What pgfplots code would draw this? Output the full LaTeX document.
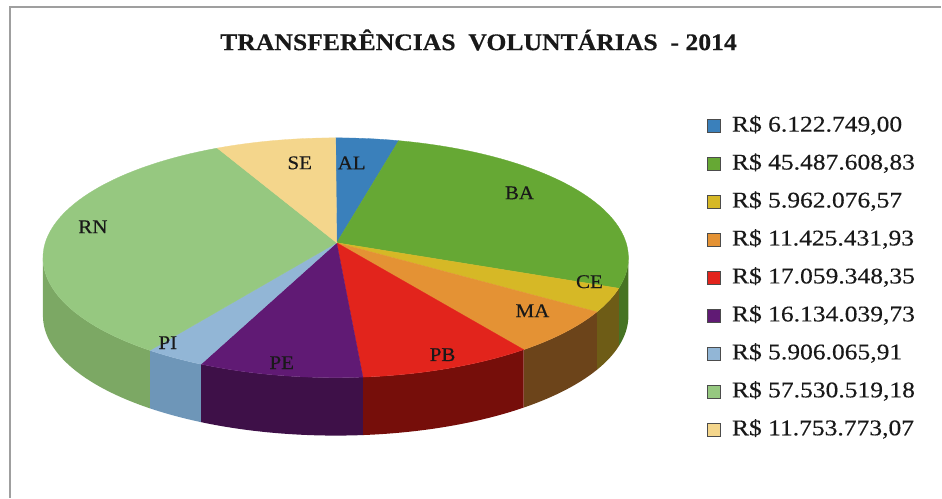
\documentclass[border=0pt]{standalone}
\usepackage{pgfplots}
\pgfplotsset{compat=1.18}
\usepgfplotslibrary{fillbetween}
\usepackage{fontspec}
\setmainfont{Liberation Serif}
\newfontfamily\heavy[FakeBold=0.35]{Liberation Serif}
\newfontfamily\titlefont[FakeBold=0.4]{Liberation Serif Bold}

\definecolor{cAL}{RGB}{58,128,187}
\definecolor{cBA}{RGB}{102,168,52}
\definecolor{cCE}{RGB}{214,184,38}
\definecolor{cMA}{RGB}{228,146,52}
\definecolor{cPB}{RGB}{226,36,28}
\definecolor{cPE}{RGB}{96,26,116}
\definecolor{cPI}{RGB}{146,182,214}
\definecolor{cRN}{RGB}{150,200,128}
\definecolor{cSE}{RGB}{244,214,140}
\definecolor{sBA}{RGB}{70,115,35}
\definecolor{sCE}{RGB}{110,92,22}
\definecolor{sMA}{RGB}{108,68,26}
\definecolor{sPB}{RGB}{118,14,10}
\definecolor{sPE}{RGB}{62,16,72}
\definecolor{sPI}{RGB}{110,150,184}
\definecolor{sRN}{RGB}{124,168,100}
\definecolor{txt}{RGB}{25,25,25}

% values in millions of R$
\def\vAL{6.12274900}
\def\vBA{45.48760883}
\def\vCE{5.96207657}
\def\vMA{11.42543193}
\def\vPB{17.05934835}
\def\vPE{16.13403973}
\def\vPI{5.90606591}
\def\vRN{57.53051918}
\def\vSE{11.75377307}
\pgfmathsetmacro\tot{\vAL+\vBA+\vCE+\vMA+\vPB+\vPE+\vPI+\vRN+\vSE}
\pgfmathsetmacro\aA{90}
\pgfmathsetmacro\aB{\aA-\vAL/\tot*360}
\pgfmathsetmacro\aC{\aB-\vBA/\tot*360}
\pgfmathsetmacro\aD{\aC-\vCE/\tot*360}
\pgfmathsetmacro\aE{\aD-\vMA/\tot*360}
\pgfmathsetmacro\aF{\aE-\vPB/\tot*360}
\pgfmathsetmacro\aG{\aF-\vPE/\tot*360}
\pgfmathsetmacro\aH{\aG-\vPI/\tot*360}
\pgfmathsetmacro\aI{\aH-\vRN/\tot*360}
\pgfmathsetmacro\aJ{\aI-\vSE/\tot*360}

\def\cx{336}\def\cy{258}\def\ra{293}\def\rb{120}\def\dep{58}
\def\px{337}\def\py{243}

\newcommand\pieslice[3]{% color, from, to
  \addplot[fill=#1, draw=#1, line width=0.3bp, domain=#2:#3, samples=60]
    ({\cx+\ra*cos(x)},{\cy-\rb*sin(x)}) -- (axis cs:\px,\py) -- cycle;}
\newcommand\pieside[4]{% name, color, from, to
  \addplot[name path=t#1, draw=none, forget plot, domain=#3:#4, samples=60]
    ({\cx+\ra*cos(x)},{\cy-\rb*sin(x)});
  \addplot[name path=b#1, draw=none, forget plot, domain=#3:#4, samples=60]
    ({\cx+\ra*cos(x)},{\cy-\rb*sin(x)+\dep});
  \addplot[fill=#2, draw=none, forget plot] fill between[of=t#1 and b#1];}

\newcommand\lab[3]{\node[font=\heavy\fontsize{19.5}{22}\selectfont, text=txt] at (axis cs:#1,#2) {\scalebox{1.08}[1]{#3}};}
\newcommand\leg[1]{\scalebox{1.14}[1]{#1}}

\begin{document}
\begin{tikzpicture}
\begin{axis}[
  width=942bp, height=498bp, scale only axis,
  xmin=0, xmax=942, ymin=0, ymax=498, y dir=reverse,
  hide axis, clip=false,
  legend cell align=left,
  legend image code/.code={\draw[#1, draw=gray!60!black, line width=0.5bp] (0bp,-6.5bp) rectangle (13bp,6.5bp);},
  legend style={draw=none, fill=none, inner sep=0pt, at={(axis cs:707,116.5)}, anchor=north west,
    font=\heavy\fontsize{22.5}{26}\selectfont, text=txt,
    nodes={inner sep=0pt, text height=15bp, text depth=4bp},
    row sep=19bp,
    /tikz/every odd column/.append style={column sep=12bp}},
]
\path (axis cs:0,0) (axis cs:942,498);
% frame
\draw[gray!75, line width=1.8bp] (axis cs:10,498) -- (axis cs:10,7) -- (axis cs:942,7);
% title
\node[font=\titlefont\fontsize{24}{28}\selectfont, text=txt] at (axis cs:479,40) {\scalebox{1.075}[1]{TRANSFERÊNCIAS\ \ VOLUNTÁRIAS\ \ - 2014}};
% sides (front half)
\pieside{BA}{sBA}{\aC}{0}
\pieside{CE}{sCE}{\aD}{\aC}
\pieside{MA}{sMA}{\aE}{\aD}
\pieside{PB}{sPB}{\aF}{\aE}
\pieside{PE}{sPE}{\aG}{\aF}
\pieside{PI}{sPI}{\aH}{\aG}
\pieside{RN}{sRN}{-180}{\aH}
% top
\pieslice{cAL}{\aB}{\aA}
\addlegendentry{\leg{R\$ 6.122.749,00}}
\pieslice{cBA}{\aC}{\aB}
\addlegendentry{\leg{R\$ 45.487.608,83}}
\pieslice{cCE}{\aD}{\aC}
\addlegendentry{\leg{R\$ 5.962.076,57}}
\pieslice{cMA}{\aE}{\aD}
\addlegendentry{\leg{R\$ 11.425.431,93}}
\pieslice{cPB}{\aF}{\aE}
\addlegendentry{\leg{R\$ 17.059.348,35}}
\pieslice{cPE}{\aG}{\aF}
\addlegendentry{\leg{R\$ 16.134.039,73}}
\pieslice{cPI}{\aH}{\aG}
\addlegendentry{\leg{R\$ 5.906.065,91}}
\pieslice{cRN}{\aI}{\aH}
\addlegendentry{\leg{R\$ 57.530.519,18}}
\pieslice{cSE}{\aJ}{\aI}
\addlegendentry{\leg{R\$ 11.753.773,07}}
% labels
\lab{352}{163}{AL}
\lab{520}{193}{BA}
\lab{590}{282}{CE}
\lab{533}{311}{MA}
\lab{443}{355}{PB}
\lab{282}{363}{PE}
\lab{168}{343}{PI}
\lab{93}{227}{RN}
\lab{300}{163}{SE}
\end{axis}
\end{tikzpicture}
\end{document}
